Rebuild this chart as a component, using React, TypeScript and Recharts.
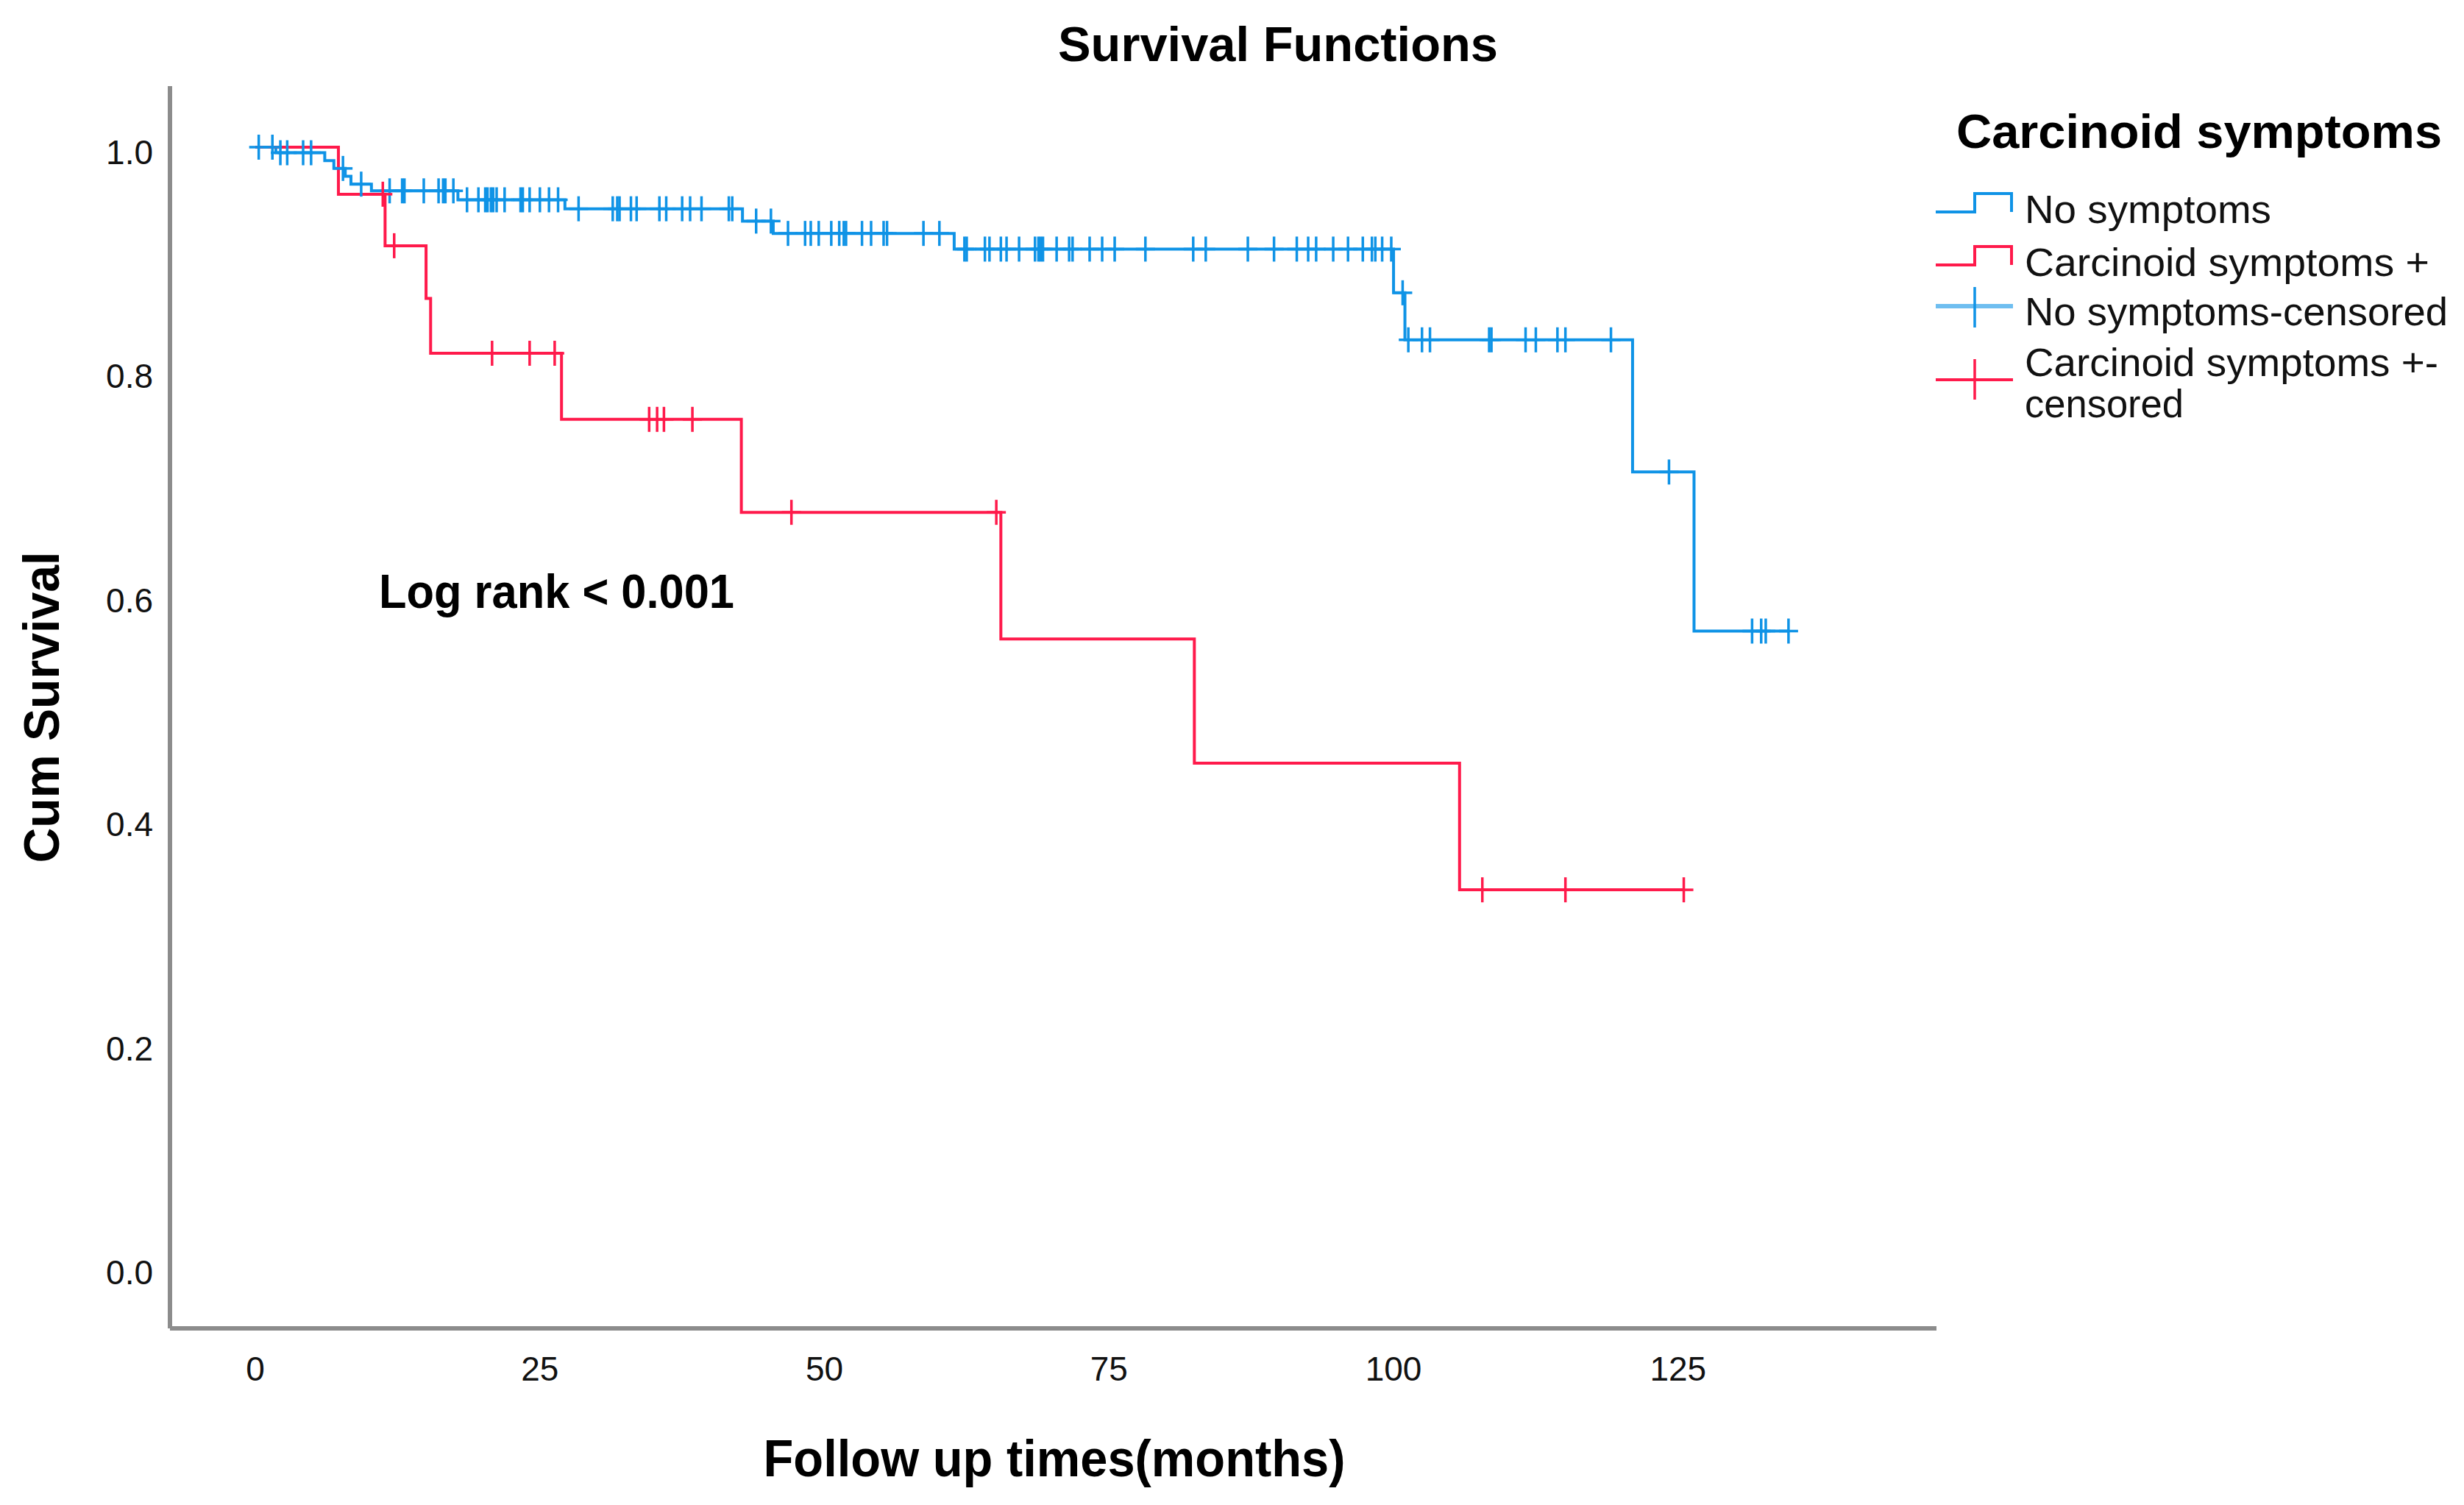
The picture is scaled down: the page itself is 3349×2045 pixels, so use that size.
import React from 'react';
import { ComposedChart, Line, Scatter, XAxis, YAxis } from 'recharts';

// Kaplan-Meier steps (months, cumulative survival)
const noSymTimes = [0, 1.8, 6.1, 6.9, 7.9, 8.4, 10.2, 17.8, 27.2, 42.8, 45.5, 61.4, 100.0, 101.0, 121.0, 126.4];
const noSymSurv = [1.0, 0.995, 0.988, 0.981, 0.974, 0.967, 0.961, 0.953, 0.945, 0.934, 0.923, 0.909, 0.87, 0.828, 0.71, 0.568];
const noSymEnd = 134.7;
const noSymCensored = [
  0.3, 1.5, 2.2, 2.8, 4.2, 4.9, 7.7, 9.3, 11.8, 12.9, 13.1, 14.8, 16.1, 16.5, 16.7, 17.4,
  18.6, 19.6, 20.2, 20.4, 20.7, 20.9, 21.2, 21.9, 23.3, 23.5, 24.1, 25.0, 25.8, 26.6,
  28.4, 31.4, 31.8, 32.0, 33.0, 33.5, 35.5, 36.1, 37.5, 38.2, 39.2, 41.6, 41.9, 44.0, 45.3,
  46.8, 48.3, 48.8, 49.5, 50.6, 51.3, 51.7, 51.9, 53.3, 54.1, 55.2, 55.5, 58.7, 60.1,
  62.3, 62.5, 64.1, 64.5, 65.5, 66.0, 67.1, 68.5, 68.8, 69.0, 69.2, 70.4, 71.5, 71.8, 73.3,
  74.4, 75.5, 78.2, 82.4, 83.5, 87.2, 89.5, 91.5, 92.5, 93.2, 94.7, 96.0, 97.3, 98.1, 98.4,
  99.0, 99.8, 100.8, 101.3, 102.5, 103.2, 108.4, 108.6, 111.6, 112.5, 114.4, 115.1, 119.1,
  124.2, 131.5, 132.3, 132.7, 134.7,
];

const carcTimes = [0, 7.3, 11.4, 15.0, 15.4, 26.9, 42.7, 65.5, 82.5, 105.8];
const carcSurv = [1.0, 0.958, 0.912, 0.865, 0.816, 0.757, 0.674, 0.561, 0.45, 0.337];
const carcEnd = 125.5;
const carcCensored = [11.2, 12.2, 20.8, 24.1, 26.3, 34.6, 35.3, 35.9, 38.4, 47.1, 65.1, 107.8, 115.1, 125.5];

const xTicks = [0, 25, 50, 75, 100, 125];
const yTicks = [0, 0.2, 0.4, 0.6, 0.8, 1.0];

const legendTitle = 'Carcinoid symptoms';
const legendLabels = ['No symptoms', 'Carcinoid symptoms +', 'No symptoms-censored', 'Carcinoid symptoms +-', 'censored'];

const W = 3349;
const H = 2045;
const BLUE = '#0f93e6';
const RED = '#ff1a4b';
const FONT = '"Liberation Sans", Arial, sans-serif';

function stepData(times: number[], surv: number[], end: number) {
  const pts = times.map((t, i) => ({ t, s: surv[i] }));
  pts.push({ t: end, s: surv[surv.length - 1] });
  return pts;
}

function survAt(times: number[], surv: number[], t: number) {
  let v = surv[0];
  for (let i = 0; i < times.length; i++) if (times[i] <= t) v = surv[i];
  return v;
}

function censorData(times: number[], surv: number[], cens: number[]) {
  return cens.map((t) => ({ t, s: survAt(times, surv, t) }));
}

const noSymLine = stepData(noSymTimes, noSymSurv, noSymEnd);
const carcLine = stepData(carcTimes, carcSurv, carcEnd);
const noSymCens = censorData(noSymTimes, noSymSurv, noSymCensored);
const carcCens = censorData(carcTimes, carcSurv, carcCensored);

const censorMark = (color: string) => (props: any) => {
  const { cx, cy } = props;
  return (
    <g stroke={color} strokeWidth={3.5}>
      <line x1={cx} x2={cx} y1={cy - 17} y2={cy + 17} />
      <line x1={cx - 13} x2={cx + 13} y1={cy} y2={cy} />
    </g>
  );
};

const XTick = ({ x, y, payload }: any) => (
  <text x={x} y={y + 71} textAnchor="middle" fontSize={46} fontFamily={FONT} fill="#111">
    {payload.value}
  </text>
);

const YTick = ({ x, y, payload }: any) => (
  <text x={x - 23} y={y + 23} textAnchor="end" fontSize={46} fontFamily={FONT} fill="#111">
    {Number(payload.value).toFixed(1)}
  </text>
);

function Overlay() {
  const lx = 2752;
  return (
    <svg
      width={W}
      height={H}
      style={{ position: 'absolute', left: 0, top: 0, pointerEvents: 'none' }}
      fontFamily={FONT}
    >
      <text x={1737} y={83} textAnchor="middle" fontSize={66} fontWeight="bold" textLength={598} lengthAdjust="spacingAndGlyphs">
        Survival Functions
      </text>
      <text x={1433} y={2006} textAnchor="middle" fontSize={70} fontWeight="bold" textLength={791} lengthAdjust="spacingAndGlyphs">
        Follow up times(months)
      </text>
      <text
        x={0}
        y={0}
        transform="translate(80 961) rotate(-90)"
        textAnchor="middle"
        fontSize={68}
        fontWeight="bold"
        textLength={423}
        lengthAdjust="spacingAndGlyphs"
      >
        Cum Survival
      </text>
      <text x={515} y={826} fontSize={64} fontWeight="bold" textLength={483} lengthAdjust="spacingAndGlyphs">
        Log rank &lt; 0.001
      </text>

      {/* legend */}
      <text x={2659} y={201} fontSize={64} fontWeight="bold" textLength={660} lengthAdjust="spacingAndGlyphs">
        {legendTitle}
      </text>
      <path d="M2631 288 H2684 V263 H2734 V288" fill="none" stroke={BLUE} strokeWidth={4} />
      <path d="M2631 360 H2684 V335 H2734 V360" fill="none" stroke={RED} strokeWidth={4} />
      <g stroke={BLUE} strokeWidth={3.5}>
        <line x1={2631} x2={2736} y1={416} y2={416} strokeWidth={6} strokeOpacity={0.6} />
        <line x1={2684} x2={2684} y1={390} y2={445} />
      </g>
      <g stroke={RED} strokeWidth={3.5}>
        <line x1={2631} x2={2736} y1={516} y2={516} strokeWidth={4} />
        <line x1={2684} x2={2684} y1={488} y2={543} />
      </g>
      <g fontSize={54} fill="#111">
        <text x={lx} y={303} textLength={335} lengthAdjust="spacingAndGlyphs">{legendLabels[0]}</text>
        <text x={lx} y={375} textLength={550} lengthAdjust="spacingAndGlyphs">{legendLabels[1]}</text>
        <text x={lx} y={442} textLength={575} lengthAdjust="spacingAndGlyphs">{legendLabels[2]}</text>
        <text x={lx} y={511} textLength={562} lengthAdjust="spacingAndGlyphs">{legendLabels[3]}</text>
        <text x={lx} y={567} textLength={216} lengthAdjust="spacingAndGlyphs">{legendLabels[4]}</text>
      </g>
    </svg>
  );
}

export default function App() {
  return (
    <div style={{ position: 'absolute', left: 0, top: 0, width: W, height: H, background: '#fff' }}>
      <ComposedChart width={W} height={H} margin={{ top: 117, right: 717, bottom: 40, left: 31 }}>
        <XAxis
          type="number"
          dataKey="t"
          domain={[-7.5, 147.7]}
          ticks={xTicks}
          interval={0}
          allowDataOverflow
          tickLine={false}
          tickSize={0}
          tickMargin={0}
          height={200}
          axisLine={{ stroke: '#8c8c8c', strokeWidth: 6 }}
          tick={<XTick />}
        />
        <YAxis
          type="number"
          domain={[-0.0545, 1.0545]}
          ticks={yTicks}
          interval={0}
          allowDataOverflow
          tickLine={false}
          tickSize={0}
          tickMargin={0}
          width={200}
          axisLine={{ stroke: '#8c8c8c', strokeWidth: 6 }}
          tick={<YTick />}
        />
        <Line
          data={noSymLine}
          dataKey="s"
          type="stepAfter"
          stroke={BLUE}
          strokeWidth={4}
          dot={false}
          activeDot={false}
          isAnimationActive={false}
        />
        <Line
          data={carcLine}
          dataKey="s"
          type="stepAfter"
          stroke={RED}
          strokeWidth={4}
          dot={false}
          activeDot={false}
          isAnimationActive={false}
        />
        <Scatter data={noSymCens} dataKey="s" shape={censorMark(BLUE)} isAnimationActive={false} />
        <Scatter data={carcCens} dataKey="s" shape={censorMark(RED)} isAnimationActive={false} />
      </ComposedChart>
      <Overlay />
    </div>
  );
}
